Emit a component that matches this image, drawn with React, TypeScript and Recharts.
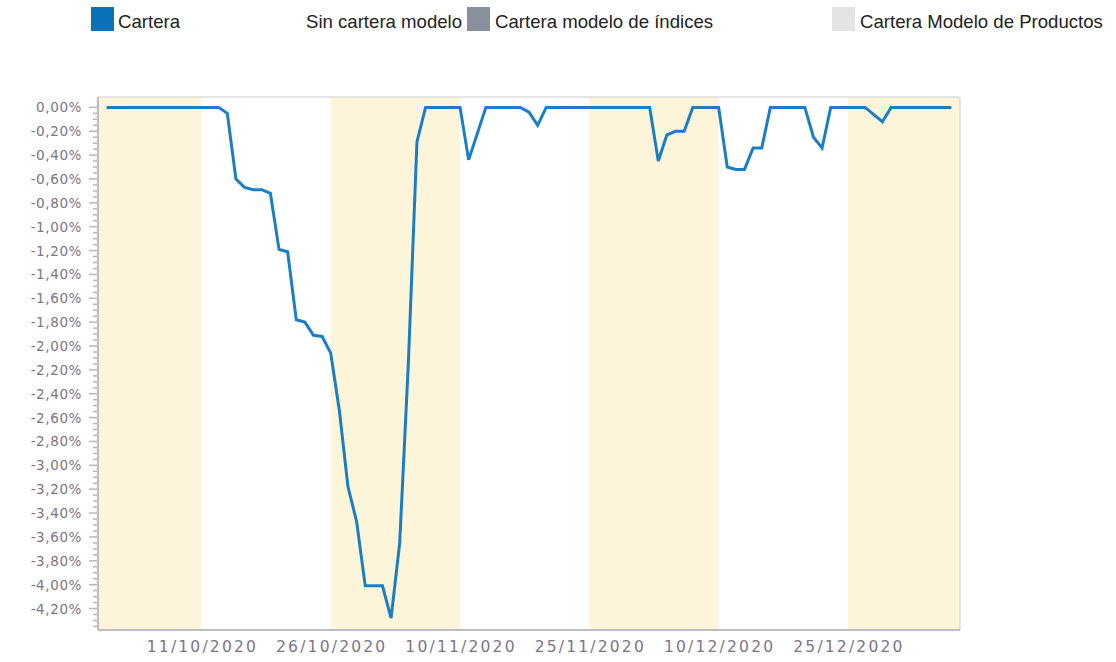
import React from "react"
import { LineChart, Line, XAxis, YAxis, ReferenceArea, ReferenceLine } from "recharts"

const DAY = 86400000

// daily values, first day 30/09/2020
const startDate = "30/09/2020"
const cartera = [
  0, 0, 0, 0, 0, 0, 0, 0, 0, 0, 0, 0, 0, 0,
  -0.05, -0.6, -0.67, -0.69, -0.69, -0.72, -1.19, -1.21, -1.78, -1.8, -1.91, -1.92, -2.06,
  -2.54, -3.18, -3.47, -4.01, -4.01, -4.01, -4.28, -3.65, -2.15, -0.29,
  0, 0, 0, 0, 0,
  -0.44, -0.22,
  0, 0, 0, 0, 0,
  -0.04, -0.15,
  0, 0, 0, 0, 0, 0, 0, 0, 0, 0, 0, 0, 0,
  -0.45, -0.23, -0.2, -0.2,
  0, 0, 0, 0,
  -0.5, -0.52, -0.52, -0.34, -0.34,
  0, 0, 0, 0, 0,
  -0.25, -0.34,
  0, 0, 0, 0, 0,
  -0.06, -0.12,
  0, 0, 0, 0, 0, 0, 0, 0,
]

const tickDates = ["11/10/2020", "26/10/2020", "10/11/2020", "25/11/2020", "10/12/2020", "25/12/2020"]
const axisStart = "29/09/2020"
const axisEnd = "07/01/2021"
const shadedBands = [
  ["29/09/2020", "11/10/2020"],
  ["26/10/2020", "10/11/2020"],
  ["25/11/2020", "10/12/2020"],
  ["25/12/2020", "07/01/2021"],
]

const legendItems = [
  { label: "Cartera", color: "#0a72bb" },
  { label: "Sin cartera modelo", color: "#ffffff" },
  { label: "Cartera modelo de índices", color: "#87909c" },
  { label: "Cartera Modelo de Productos", color: "#e4e4e4" },
]

const yMin = -4.38
const yMax = 0.087

function parseDate(s: string) {
  const [d, m, y] = s.split("/").map(Number)
  return Date.UTC(y, m - 1, d)
}

const t0 = parseDate(startDate)
const data = cartera.map((v, i) => ({ t: t0 + i * DAY, v }))

const yTicks: number[] = []
for (let k = 0; k * 0.05 <= -yMin + 1e-9; k++) yTicks.push(-Math.round(k * 5) / 100)

const labelColor = "#7d7489"

function XTick({ x, y, payload }: any) {
  const d = new Date(payload.value)
  const txt = `${String(d.getUTCDate()).padStart(2, "0")}/${String(d.getUTCMonth() + 1).padStart(2, "0")}/${d.getUTCFullYear()}`
  return (
    <text x={x + 1} y={y + 22} textAnchor="middle" fill={labelColor} fontSize={15.5} letterSpacing={2.2} fontFamily="DejaVu Sans">
      {txt}
    </text>
  )
}

function YTick({ x, y, payload }: any) {
  const v = payload.value
  const major = Math.abs(Math.round(v * 20)) % 4 === 0
  return (
    <g>
      <line x1={x - (major ? 9 : 5)} x2={x - 1} y1={y} y2={y} stroke="#b8b8b8" strokeWidth={1.5} />
      {major && (
        <text x={x - 16} y={y + 5} textAnchor="end" fill={labelColor} fontSize={13.5} letterSpacing={0.6} fontFamily="DejaVu Sans">
          {v.toFixed(2).replace(".", ",") + "%"}
        </text>
      )}
    </g>
  )
}

const legendPos = [
  { sq: 91, tx: 118 },
  { sq: 280, tx: 306 },
  { sq: 467, tx: 495 },
  { sq: 832, tx: 860 },
]

export default function App() {
  return (
    <div style={{ position: "absolute", left: 0, top: 0, width: 1116, height: 662, background: "#fff" }}>
      {legendItems.map((it, i) => (
        <React.Fragment key={it.label}>
          <div style={{ position: "absolute", left: legendPos[i].sq, top: 7, width: 23, height: 24, background: it.color }} />
          <span
            style={{
              position: "absolute",
              left: legendPos[i].tx,
              top: 10,
              fontFamily: "'Liberation Sans', Arial, sans-serif",
              fontSize: 18.6,
              lineHeight: "24px",
              color: "#222",
              whiteSpace: "nowrap",
            }}
          >
            {it.label}
          </span>
        </React.Fragment>
      ))}
      <div style={{ position: "absolute", left: 0, top: 0 }}>
        <LineChart width={1116} height={662} data={data} margin={{ top: 97, right: 156, bottom: 0, left: 0 }}>
          {shadedBands.map(([a, b]) => (
            <ReferenceArea key={a} x1={parseDate(a)} x2={parseDate(b)} fill="#fdf5da" fillOpacity={1} stroke="none" />
          ))}
          <ReferenceLine y={yMax} stroke="#dddddd" strokeWidth={1.5} />
          <ReferenceLine x={parseDate(axisEnd)} stroke="#dddddd" strokeWidth={1.5} />
          <XAxis
            dataKey="t"
            type="number"
            domain={[parseDate(axisStart), parseDate(axisEnd)]}
            allowDataOverflow
            ticks={tickDates.map(parseDate)}
            interval={0}
            tick={<XTick />}
            tickLine={false}
            tickSize={0}
            tickMargin={0}
            height={32}
            axisLine={{ stroke: "#bdbdbd", strokeWidth: 2 }}
          />
          <YAxis
            type="number"
            domain={[yMin, yMax]}
            allowDataOverflow
            ticks={yTicks}
            interval={0}
            tick={<YTick />}
            tickLine={false}
            tickSize={0}
            tickMargin={0}
            width={98}
            axisLine={{ stroke: "#bdbdbd", strokeWidth: 2 }}
          />
          <Line
            dataKey="v"
            type="linear"
            stroke="#1a7fc2"
            strokeWidth={3}
            dot={false}
            isAnimationActive={false}
          />
        </LineChart>
      </div>
    </div>
  )
}
